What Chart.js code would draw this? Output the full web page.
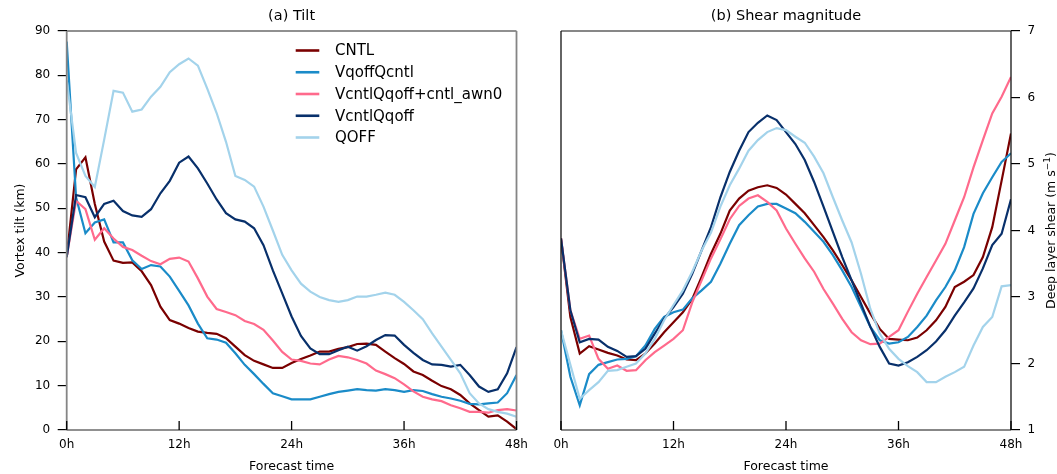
<!DOCTYPE html>
<html>
<head>
<meta charset="utf-8">
<script src="https://cdn.jsdelivr.net/npm/chart.js@4.4.1/dist/chart.umd.min.js"></script>
<style>
  html, body { margin: 0; padding: 0; background: #ffffff; }
  #wrap { position: relative; width: 1057px; height: 474px; overflow: hidden; background: #ffffff; }
  canvas { position: absolute; top: 0; }
  #tilt { left: 0; }
  #shear { left: 540px; }
</style>
</head>
<body>
<div id="wrap">
  <canvas id="tilt" width="540" height="474"></canvas>
  <canvas id="shear" width="517" height="474"></canvas>
</div>
<script>
// Forecast hours (x values shared by every series)
const hours = [0, 1, 2, 3, 4, 5, 6, 7, 8, 9, 10, 11, 12, 13, 14, 15, 16, 17, 18, 19, 20,
  21, 22, 23, 24, 25, 26, 27, 28, 29, 30, 31, 32, 33, 34, 35, 36, 37, 38, 39, 40,
  41, 42, 43, 44, 45, 46, 47, 48];
const hourTicks = [0, 12, 24, 36, 48];

const seriesNames = ['CNTL', 'VqoffQcntl', 'VcntlQqoff+cntl_awn0', 'VcntlQqoff', 'QOFF'];
const seriesColors = ['#7a0000', '#1a8bc8', '#ff6a8c', '#08306b', '#a3d3eb'];

// (a) Vortex tilt, km
const tiltCNTL = [39, 58.8, 61.5, 51, 42.5, 38.2, 37.7, 37.8, 35.8, 32.7,
  27.8, 24.8, 24, 23, 22.2, 21.9, 21.7, 20.7, 18.8, 16.9,
  15.6, 14.8, 14, 14, 15.1, 16, 16.8, 17.7, 17.7, 18.3,
  18.7, 19.4, 19.5, 19.2, 17.7, 16.2, 14.9, 13.2, 12.4, 11.1,
  9.9, 9.2, 7.9, 6, 4.5, 3, 3.3, 1.9, 0.2];
const tiltVqoffQcntl = [87.6, 52.5, 44.4, 46.8, 47.5, 42.3, 42.3, 38.3, 36.3, 37.2,
  36.9, 34.6, 31.4, 28.1, 24, 20.7, 20.4, 19.7, 17.3, 14.7,
  12.6, 10.4, 8.3, 7.6, 6.9, 6.9, 6.9, 7.5, 8.1, 8.6,
  8.9, 9.2, 9.0, 8.9, 9.2, 9.0, 8.6, 9.0, 8.8, 8.1,
  7.5, 7.1, 6.6, 5.9, 5.8, 6.0, 6.2, 8.3, 12.4];
const tiltAwn0 = [39, 51.7, 49.8, 42.9, 45.5, 43.2, 41.3, 40.6, 39.3, 38.1,
  37.4, 38.6, 38.9, 38, 34.2, 30.1, 27.3, 26.6, 25.9, 24.6,
  23.9, 22.6, 20.2, 17.6, 15.9, 15.6, 15, 14.8, 15.9, 16.7,
  16.4, 15.8, 15, 13.4, 12.6, 11.7, 10.3, 8.7, 7.5, 6.9,
  6.5, 5.6, 4.9, 4.1, 4.1, 3.9, 4.5, 4.7, 4.4];
const tiltVcntlQqoff = [39, 53, 52.5, 48, 51, 51.7, 49.4, 48.4, 48.1, 49.8,
  53.4, 56.2, 60.3, 61.7, 59, 55.6, 52, 48.9, 47.5, 47,
  45.5, 41.7, 36, 30.8, 25.6, 21.2, 18.4, 17.1, 17.1, 18,
  18.8, 17.9, 18.9, 20.3, 21.4, 21.3, 19.2, 17.4, 15.8, 14.8,
  14.7, 14.3, 14.7, 12.4, 9.8, 8.6, 9.2, 12.8, 18.7];
const tiltQOFF = [79, 62.5, 57.3, 54.8, 65.5, 76.5, 76.1, 71.8, 72.3, 75.2,
  77.4, 80.7, 82.5, 83.8, 82.2, 77, 71.5, 65, 57.3, 56.4,
  54.9, 50.4, 45, 39.5, 36, 33, 31.2, 30, 29.3, 28.9,
  29.3, 30.1, 30.1, 30.5, 31, 30.5, 28.9, 27, 25, 21.8,
  18.8, 15.8, 12.8, 8.3, 6, 4.7, 4.1, 3.7, 3.0];

// (b) Deep layer shear magnitude, m/s
const shearCNTL = [3.88, 2.7, 2.15, 2.26, 2.21, 2.16, 2.12, 2.06, 2.05, 2.15,
  2.3, 2.47, 2.62, 2.77, 2.97, 3.3, 3.65, 3.95, 4.3, 4.48,
  4.6, 4.65, 4.68, 4.64, 4.54, 4.4, 4.26, 4.08, 3.9, 3.7,
  3.48, 3.25, 3.0, 2.75, 2.52, 2.37, 2.36, 2.35, 2.39, 2.5,
  2.65, 2.85, 3.15, 3.23, 3.33, 3.6, 4.05, 4.75, 5.46];
const shearVqoffQcntl = [2.5, 1.8, 1.37, 1.84, 1.98, 2.02, 2.06, 2.07, 2.11, 2.27,
  2.52, 2.7, 2.77, 2.81, 2.98, 3.1, 3.23, 3.5, 3.8, 4.08,
  4.23, 4.36, 4.4, 4.4, 4.33, 4.26, 4.13, 3.98, 3.83, 3.63,
  3.4, 3.15, 2.85, 2.55, 2.35, 2.3, 2.32, 2.4, 2.55, 2.72,
  2.95, 3.15, 3.4, 3.75, 4.25, 4.56, 4.8, 5.03, 5.16];
const shearAwn0 = [3.88, 2.8, 2.37, 2.42, 2.07, 1.92, 1.97, 1.89, 1.9, 2.05,
  2.17, 2.27, 2.37, 2.5, 2.92, 3.25, 3.58, 3.87, 4.17, 4.37,
  4.48, 4.53, 4.43, 4.3, 4.03, 3.8, 3.58, 3.38, 3.12, 2.9,
  2.67, 2.47, 2.35, 2.29, 2.3, 2.4, 2.5, 2.78, 3.05, 3.3,
  3.55, 3.8, 4.15, 4.5, 4.95, 5.36, 5.76, 6.01, 6.31];
const shearVcntlQqoff = [3.88, 2.8, 2.32, 2.37, 2.36, 2.25, 2.19, 2.1, 2.11, 2.22,
  2.45, 2.67, 2.85, 3.05, 3.35, 3.7, 4.05, 4.5, 4.88, 5.2,
  5.48, 5.62, 5.73, 5.66, 5.48, 5.3, 5.06, 4.73, 4.36, 3.98,
  3.6, 3.25, 2.9, 2.55, 2.25, 2.0, 1.97, 2.02, 2.1, 2.2,
  2.33, 2.5, 2.72, 2.92, 3.13, 3.43, 3.78, 3.95, 4.47];
const shearQOFF = [2.5, 1.98, 1.47, 1.6, 1.72, 1.89, 1.9, 1.95, 2.0, 2.15,
  2.37, 2.65, 2.88, 3.1, 3.38, 3.7, 3.97, 4.36, 4.68, 4.93,
  5.2, 5.36, 5.48, 5.54, 5.51, 5.41, 5.32, 5.11, 4.86, 4.5,
  4.15, 3.82, 3.35, 2.82, 2.45, 2.22, 2.07, 1.96, 1.87, 1.72,
  1.72, 1.8, 1.87, 1.95, 2.27, 2.55, 2.7, 3.16, 3.18];

const FONT = 'DejaVu Sans';

function makeDatasets(seriesList) {
  return seriesList.map((vals, i) => ({
    label: seriesNames[i],
    data: hours.map((h, k) => ({ x: h, y: vals[k] })),
    borderColor: seriesColors[i],
    backgroundColor: seriesColors[i],
    borderWidth: 2.2,
    pointRadius: 0,
    fill: false,
    tension: 0,
    // later series are painted over earlier ones
    order: seriesList.length - 1 - i
  }));
}

function xScale() {
  return {
    type: 'linear',
    min: 0,
    max: 48,
    afterBuildTicks: s => { s.ticks = hourTicks.map(v => ({ value: v })); },
    ticks: {
      callback: v => v + 'h',
      color: '#000',
      font: { family: FONT, size: 12 },
      padding: 0,
      maxRotation: 0,
      autoSkip: false
    },
    grid: { display: false },
    border: { display: false },
    afterFit: s => { s.height = 44; }
  };
}

// Frame, inward hour ticks, titles and legend for one panel
function panelDecor(opts) {
  return {
    id: 'panelDecor',
    afterDraw(chart) {
      const ctx = chart.ctx;
      const a = chart.chartArea;
      ctx.save();
      const seg = (x1, y1, x2, y2, color, w) => {
        ctx.beginPath();
        ctx.strokeStyle = color;
        ctx.lineWidth = w;
        ctx.moveTo(x1, y1);
        ctx.lineTo(x2, y2);
        ctx.stroke();
      };
      seg(a.left, a.top, a.right, a.top, opts.topColor, 1.2);
      seg(a.left, a.bottom, a.right, a.bottom, opts.bottomColor, 1.2);
      seg(a.left, a.top, a.left, a.bottom, opts.sideColor, opts.sideWidth);
      seg(a.right, a.top, a.right, a.bottom, opts.sideColor, opts.sideWidth);

      // hour ticks pointing into the plot
      const xs = chart.scales.x;
      hourTicks.forEach(v => {
        const px = xs.getPixelForValue(v);
        seg(px, a.bottom, px, a.bottom - 9, '#000', 1.3);
      });

      ctx.fillStyle = '#000';
      const cx = (a.left + a.right) / 2;
      // panel title
      ctx.font = '14.5px "' + FONT + '"';
      ctx.textAlign = 'center';
      ctx.textBaseline = 'middle';
      ctx.fillText(opts.title, cx, 16);
      // x axis title
      ctx.font = '12.5px "' + FONT + '"';
      ctx.textBaseline = 'alphabetic';
      ctx.fillText('Forecast time', cx, 470);

      // y axis title, reading bottom to top
      ctx.save();
      ctx.translate(opts.yTitleX, (a.top + a.bottom) / 2);
      ctx.rotate(-Math.PI / 2);
      ctx.font = '12.5px "' + FONT + '"';
      ctx.textBaseline = 'alphabetic';
      if (opts.yTitleSup) {
        const main = opts.yTitle;
        const sup = opts.yTitleSup;
        const tail = ')';
        const wMain = ctx.measureText(main).width;
        ctx.font = '9px "' + FONT + '"';
        const wSup = ctx.measureText(sup).width;
        ctx.font = '12.5px "' + FONT + '"';
        const wTail = ctx.measureText(tail).width;
        const x0 = -(wMain + wSup + wTail) / 2;
        ctx.textAlign = 'left';
        ctx.fillText(main, x0, 0);
        ctx.font = '9px "' + FONT + '"';
        ctx.fillText(sup, x0 + wMain, -5);
        ctx.font = '12.5px "' + FONT + '"';
        ctx.fillText(tail, x0 + wMain + wSup, 0);
      } else {
        ctx.textAlign = 'center';
        ctx.fillText(opts.yTitle, 0, 0);
      }
      ctx.restore();

      // legend
      if (opts.legend) {
        const L = opts.legend;
        chart.data.datasets.forEach((ds, i) => {
          const y = L.y0 + i * L.dy;
          seg(L.x0, y, L.x1, y, ds.borderColor, 2.6);
          ctx.font = '15px "' + FONT + '"';
          ctx.textAlign = 'left';
          ctx.textBaseline = 'middle';
          ctx.fillStyle = '#000';
          ctx.fillText(ds.label, L.tx, y + 1);
        });
      }
      ctx.restore();
    }
  };
}

const common = {
  responsive: false,
  animation: false,
  devicePixelRatio: 1,
  events: [],
  plugins: { legend: { display: false }, tooltip: { enabled: false }, title: { display: false } }
};

new Chart(document.getElementById('tilt'), {
  type: 'line',
  data: { datasets: makeDatasets([tiltCNTL, tiltVqoffQcntl, tiltAwn0, tiltVcntlQqoff, tiltQOFF]) },
  options: Object.assign({}, common, {
    layout: { padding: { left: 0, top: 31, right: 23.5, bottom: 0 } },
    scales: {
      x: xScale(),
      y: {
        position: 'left',
        min: 0,
        max: 90,
        ticks: { stepSize: 10, color: '#000', font: { family: FONT, size: 12 }, padding: 7.5 },
        grid: { drawOnChartArea: false, drawTicks: true, tickLength: 9, color: '#000', lineWidth: 1.2 },
        border: { display: false },
        afterFit: s => { s.width = 66.7; }
      }
    }
  }),
  plugins: [panelDecor({
    title: '(a) Tilt',
    yTitle: 'Vortex tilt (km)',
    yTitleX: 23.5,
    topColor: '#222', bottomColor: '#222', sideColor: '#858585', sideWidth: 1.8,
    legend: { x0: 295.7, x1: 319.3, tx: 335, y0: 50.5, dy: 21.75 }
  })]
});

new Chart(document.getElementById('shear'), {
  type: 'line',
  data: { datasets: makeDatasets([shearCNTL, shearVqoffQcntl, shearAwn0, shearVcntlQqoff, shearQOFF]) },
  options: Object.assign({}, common, {
    layout: { padding: { left: 21, top: 31, right: 0, bottom: 0 } },
    scales: {
      x: xScale(),
      y: {
        position: 'right',
        min: 1,
        max: 7,
        ticks: { stepSize: 1, color: '#000', font: { family: FONT, size: 12 }, padding: 7.5 },
        grid: { drawOnChartArea: false, drawTicks: true, tickLength: 9, color: '#000', lineWidth: 1.2 },
        border: { display: false },
        afterFit: s => { s.width = 46; }
      }
    }
  }),
  plugins: [panelDecor({
    title: '(b) Shear magnitude',
    yTitle: 'Deep layer shear (m s',
    yTitleSup: '\u22121',
    yTitleX: 515,
    topColor: '#111', bottomColor: '#111', sideColor: '#111', sideWidth: 1.3
  })]
});
</script>
</body>
</html>
